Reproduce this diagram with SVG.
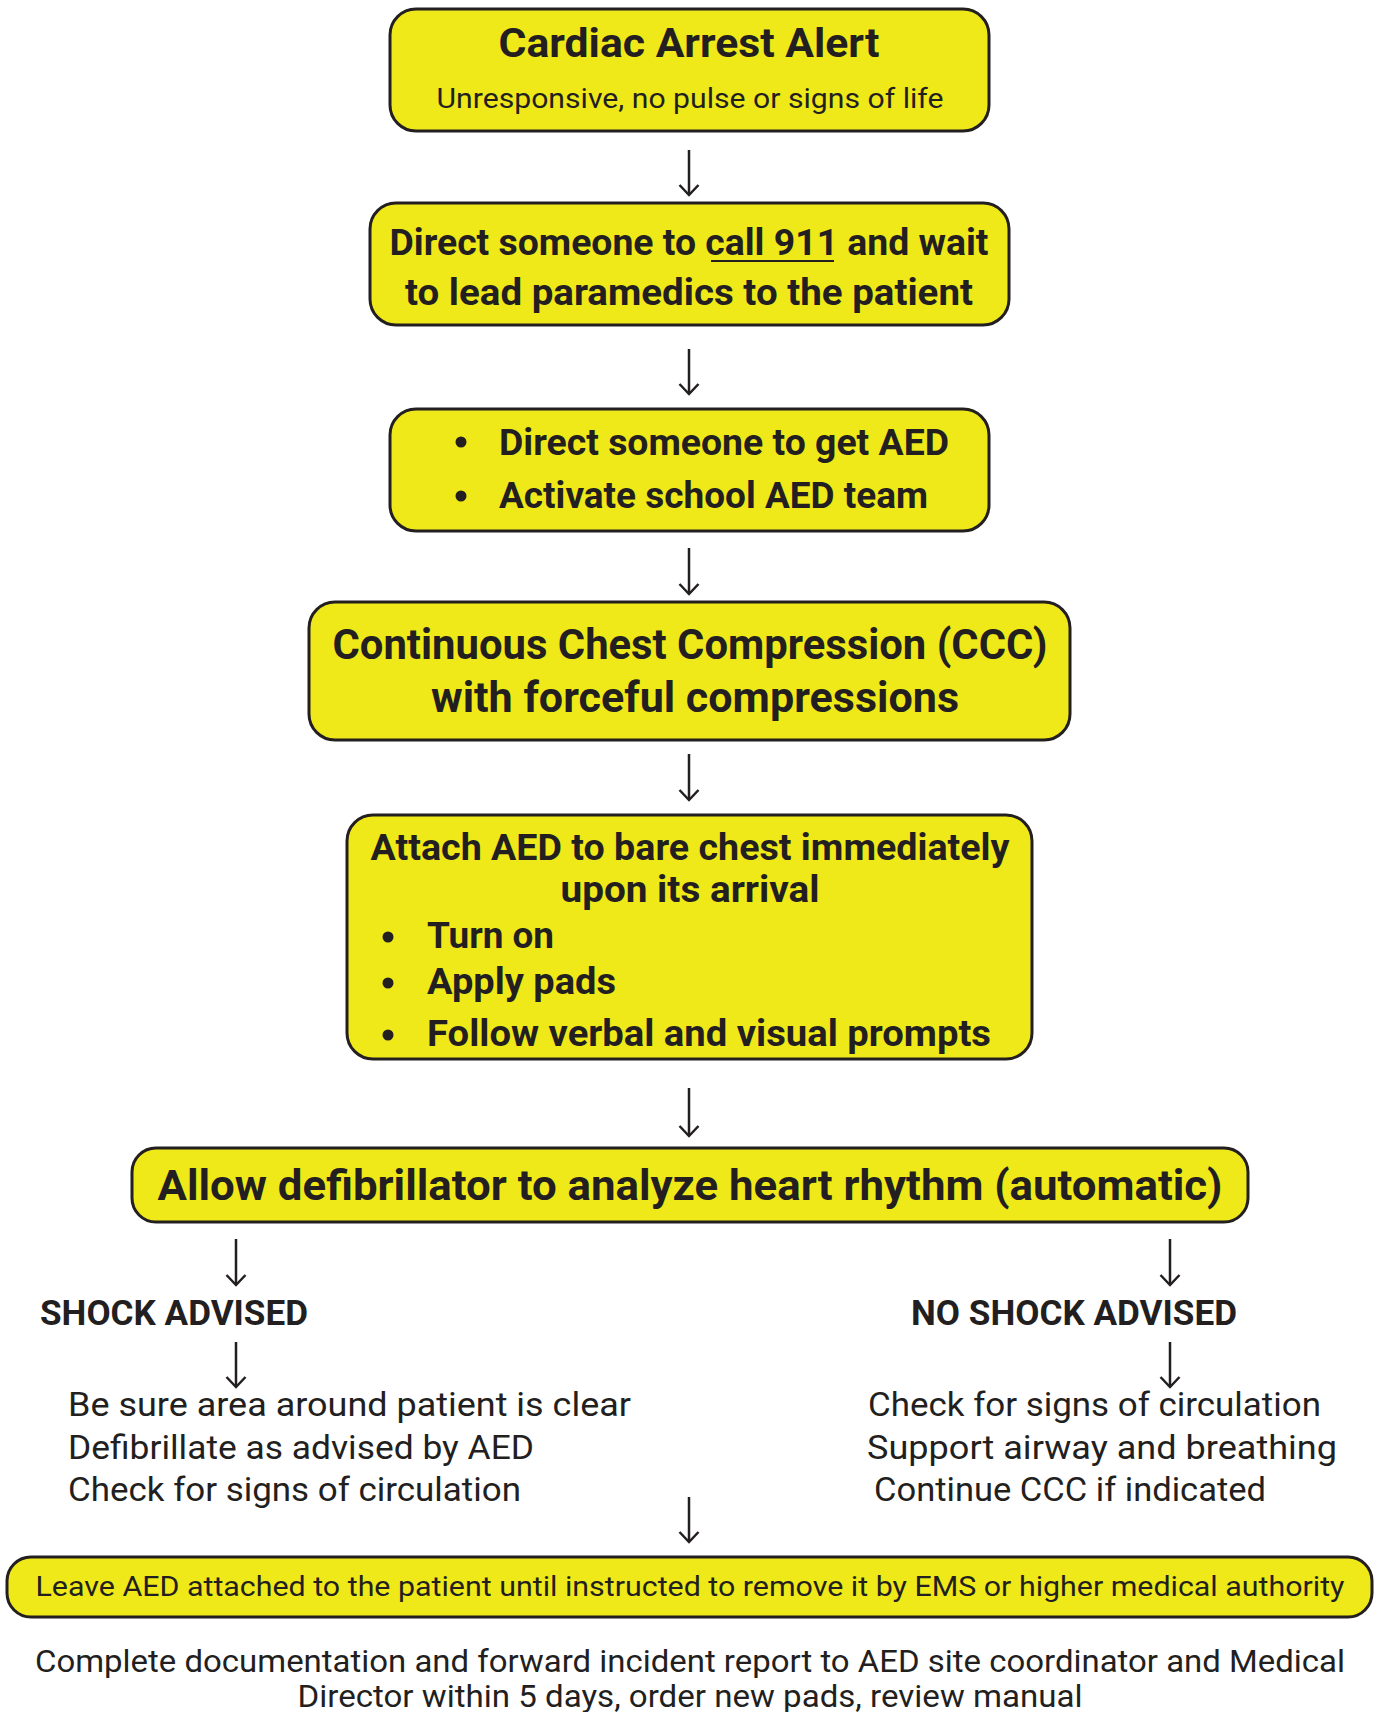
<svg xmlns="http://www.w3.org/2000/svg" width="1375" height="1712" viewBox="0 0 1375 1712">
<style>
.box{fill:#f0e919;stroke:#231f20;stroke-width:3}
.b{font-family:Roboto,"Open Sans","Liberation Sans",sans-serif;font-weight:700;fill:#231f20}
.r{font-family:Roboto,"Open Sans","Liberation Sans",sans-serif;font-weight:400;fill:#231f20}
.c{text-anchor:middle}
.arr{stroke:#231f20;stroke-width:2.5;fill:none}
.dot{fill:#231f20}
</style>
<defs>
<marker id="ah" viewBox="-14 -12 16 24" refX="0" refY="0" markerWidth="16" markerHeight="24" markerUnits="userSpaceOnUse" orient="auto">
<path d="M-10,-9.5 L0,0 L-10,9.5" fill="none" stroke="#231f20" stroke-width="2.5"/>
</marker>
</defs>
<rect width="1375" height="1712" fill="#ffffff"/>

<g id="n1">
<rect class="box" x="390" y="9" width="599" height="122" rx="26"/>
<text class="b c" x="689" y="57" font-size="41" textLength="381" lengthAdjust="spacingAndGlyphs">Cardiac Arrest Alert</text>
<text class="r c" x="690" y="108" font-size="28" textLength="507" lengthAdjust="spacingAndGlyphs">Unresponsive, no pulse or signs of life</text>
</g>

<g id="n2">
<rect class="box" x="370" y="203" width="639" height="122" rx="26"/>
<text class="b c" x="689" y="255" font-size="37" textLength="599" lengthAdjust="spacingAndGlyphs">Direct someone to call 911 and wait</text>
<line x1="711" y1="261" x2="834" y2="261" stroke="#231f20" stroke-width="2"/>
<text class="b c" x="689" y="305" font-size="37" textLength="568" lengthAdjust="spacingAndGlyphs">to lead paramedics to the patient</text>
</g>

<g id="n3">
<rect class="box" x="390" y="409" width="599" height="122" rx="26"/>
<circle class="dot" cx="461" cy="442" r="5.5"/>
<circle class="dot" cx="461" cy="496" r="5.5"/>
<text class="b" x="499" y="455" font-size="37" textLength="450" lengthAdjust="spacingAndGlyphs">Direct someone to get AED</text>
<text class="b" x="499" y="508" font-size="37" textLength="429" lengthAdjust="spacingAndGlyphs">Activate school AED team</text>
</g>

<g id="n4">
<rect class="box" x="309" y="602" width="761" height="138" rx="26"/>
<text class="b c" x="690" y="659" font-size="42" textLength="715" lengthAdjust="spacingAndGlyphs">Continuous Chest Compression (CCC)</text>
<text class="b c" x="695" y="712" font-size="42" textLength="528" lengthAdjust="spacingAndGlyphs">with forceful compressions</text>
</g>

<g id="n5">
<rect class="box" x="347" y="815" width="685" height="244" rx="26"/>
<text class="b c" x="690" y="860" font-size="37" textLength="639" lengthAdjust="spacingAndGlyphs">Attach AED to bare chest immediately</text>
<text class="b c" x="690" y="902" font-size="37" textLength="259" lengthAdjust="spacingAndGlyphs">upon its arrival</text>
<circle class="dot" cx="388" cy="937" r="5.5"/>
<circle class="dot" cx="388" cy="983" r="5.5"/>
<circle class="dot" cx="388" cy="1035" r="5.5"/>
<text class="b" x="427" y="948" font-size="37" textLength="127" lengthAdjust="spacingAndGlyphs">Turn on</text>
<text class="b" x="427" y="994" font-size="37" textLength="189" lengthAdjust="spacingAndGlyphs">Apply pads</text>
<text class="b" x="427" y="1046" font-size="37" textLength="564" lengthAdjust="spacingAndGlyphs">Follow verbal and visual prompts</text>
</g>

<g id="n6">
<rect class="box" x="132" y="1148" width="1116" height="74" rx="24"/>
<text class="b c" x="690" y="1200" font-size="42" textLength="1065" lengthAdjust="spacingAndGlyphs">Allow defibrillator to analyze heart rhythm (automatic)</text>
</g>

<g id="n7">
<text class="b" x="40" y="1325" font-size="35" textLength="268" lengthAdjust="spacingAndGlyphs">SHOCK ADVISED</text>
</g>

<g id="n8">
<text class="b" x="911" y="1325" font-size="35" textLength="326" lengthAdjust="spacingAndGlyphs">NO SHOCK ADVISED</text>
</g>

<g id="n9">
<text class="r" x="68" y="1416" font-size="33" textLength="563" lengthAdjust="spacingAndGlyphs">Be sure area around patient is clear</text>
<text class="r" x="68" y="1459" font-size="33" textLength="466" lengthAdjust="spacingAndGlyphs">Defibrillate as advised by AED</text>
<text class="r" x="68" y="1501" font-size="33" textLength="453" lengthAdjust="spacingAndGlyphs">Check for signs of circulation</text>
</g>

<g id="n10">
<text class="r" x="868" y="1416" font-size="33" textLength="453" lengthAdjust="spacingAndGlyphs">Check for signs of circulation</text>
<text class="r" x="867" y="1459" font-size="33" textLength="470" lengthAdjust="spacingAndGlyphs">Support airway and breathing</text>
<text class="r" x="874" y="1501" font-size="33" textLength="392" lengthAdjust="spacingAndGlyphs">Continue CCC if indicated</text>
</g>

<g id="n11">
<rect class="box" x="7" y="1557" width="1365" height="60" rx="24"/>
<text class="r c" x="690" y="1596" font-size="28" textLength="1309" lengthAdjust="spacingAndGlyphs">Leave AED attached to the patient until instructed to remove it by EMS or higher medical authority</text>
</g>

<g id="n12">
<text class="r c" x="690" y="1672" font-size="31" textLength="1310" lengthAdjust="spacingAndGlyphs">Complete documentation and forward incident report to AED site coordinator and Medical</text>
<text class="r c" x="690" y="1707" font-size="31" textLength="785" lengthAdjust="spacingAndGlyphs">Director within 5 days, order new pads, review manual</text>
</g>

<g id="connectors">
<line class="arr" x1="689" y1="150" x2="689" y2="195" marker-end="url(#ah)"/>
<line class="arr" x1="689" y1="349" x2="689" y2="394" marker-end="url(#ah)"/>
<line class="arr" x1="689" y1="548" x2="689" y2="594" marker-end="url(#ah)"/>
<line class="arr" x1="689" y1="754" x2="689" y2="800" marker-end="url(#ah)"/>
<line class="arr" x1="689" y1="1088" x2="689" y2="1136" marker-end="url(#ah)"/>
<line class="arr" x1="236" y1="1239" x2="236" y2="1285" marker-end="url(#ah)"/>
<line class="arr" x1="1170" y1="1239" x2="1170" y2="1285" marker-end="url(#ah)"/>
<line class="arr" x1="236" y1="1342" x2="236" y2="1387" marker-end="url(#ah)"/>
<line class="arr" x1="1170" y1="1342" x2="1170" y2="1387" marker-end="url(#ah)"/>
<line class="arr" x1="689" y1="1497" x2="689" y2="1542" marker-end="url(#ah)"/>
</g>
</svg>
